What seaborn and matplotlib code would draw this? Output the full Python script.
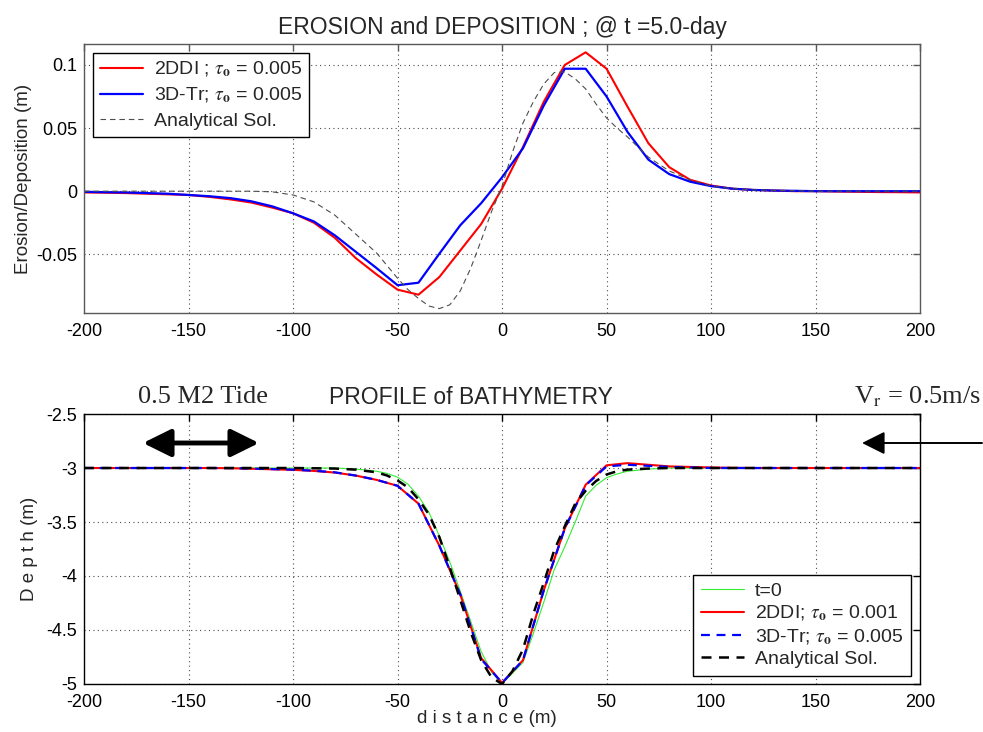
import numpy as np
import pandas as pd
import matplotlib
matplotlib.use("Agg")
import matplotlib.pyplot as plt
import seaborn as sns

# ---------------- erosion / deposition (top panel) ----------------
x_model = [-200, -190, -180, -170, -160, -150, -140, -130, -120, -110,
           -100, -90, -80, -70, -60, -50, -40, -30, -20, -10,
           0, 10, 20, 30, 40, 50, 60, 70, 80, 90,
           100, 110, 120, 130, 140, 150, 160, 170, 180, 190, 200]

erosion_2ddi = [-0.001, -0.0012, -0.0015, -0.002, -0.0025, -0.003, -0.0045, -0.0065, -0.009, -0.013,
                -0.0175, -0.025, -0.037, -0.053, -0.066, -0.078, -0.082, -0.068, -0.047, -0.026,
                0.002, 0.035, 0.071, 0.100, 0.110, 0.097, 0.067, 0.038, 0.019, 0.009,
                0.0045, 0.002, 0.001, 0.0005, 0.0, 0.0, -0.0003, -0.0005, -0.0007, -0.0008, -0.001]

erosion_3dtr = [-0.0005, -0.0008, -0.001, -0.0015, -0.002, -0.003, -0.004, -0.0055, -0.008, -0.012,
                -0.0175, -0.024, -0.035, -0.048, -0.061, -0.0745, -0.0725, -0.0495, -0.027, -0.0095,
                0.011, 0.034, 0.068, 0.097, 0.097, 0.075, 0.047, 0.025, 0.0135, 0.0075,
                0.004, 0.002, 0.001, 0.0005, 0.0003, 0.0, 0.0, 0.0, 0.0, 0.0, 0.0]

x_analytic = [-200, -150, -120, -110, -100, -90, -80, -70, -60, -50,
              -45, -40, -35, -30, -25, -20, -15, -10, -5, 0,
              5, 10, 15, 20, 25, 30, 35, 40, 45, 50,
              55, 60, 70, 80, 90, 100, 110, 120, 150, 200]
erosion_analytic = [0.0, 0.0, 0.0, -0.0005, -0.003, -0.0085, -0.019, -0.034, -0.049, -0.069,
                    -0.078, -0.085, -0.091, -0.093, -0.090, -0.079, -0.061, -0.039, -0.016, 0.004,
                    0.031, 0.054, 0.071, 0.085, 0.094, 0.0945, 0.089, 0.081, 0.069, 0.058,
                    0.050, 0.043, 0.027, 0.016, 0.009, 0.004, 0.002, 0.001, 0.0, 0.0]

# ---------------- bathymetry profile (bottom panel) ----------------
depth_2ddi = [-3.0, -3.0, -3.0, -3.0, -3.0, -3.0, -3.0, -3.002, -3.007, -3.012,
              -3.017, -3.027, -3.042, -3.07, -3.11, -3.165, -3.33, -3.72, -4.17, -4.76,
              -4.99, -4.78, -4.13, -3.56, -3.155, -2.975, -2.955, -2.97, -2.985, -2.99,
              -2.995, -2.998, -3.0, -3.0, -3.0, -3.0, -3.0, -3.0, -3.0, -3.0, -3.0]

depth_3dtr = [-3.0, -3.0, -3.0, -3.0, -3.0, -3.0, -3.0, -3.001, -3.005, -3.01,
              -3.015, -3.025, -3.04, -3.07, -3.11, -3.165, -3.33, -3.72, -4.17, -4.77,
              -4.99, -4.78, -4.13, -3.56, -3.16, -2.985, -2.97, -2.98, -2.99, -2.995,
              -3.0, -3.0, -3.0, -3.0, -3.0, -3.0, -3.0, -3.0, -3.0, -3.0, -3.0]

x_profile = [-200, -100, -80, -70, -60, -55, -50, -45, -40, -35,
             -30, -25, -20, -15, -10, -5, 0, 5, 10, 15,
             20, 25, 30, 35, 40, 45, 50, 55, 60, 70, 80, 200]
depth_initial = [-3.0, -3.0, -3.0, -3.01, -3.03, -3.05, -3.085, -3.15, -3.26, -3.41,
                 -3.63, -3.87, -4.14, -4.42, -4.70, -4.89, -5.0, -4.90, -4.80, -4.53,
                 -4.24, -3.94, -3.73, -3.50, -3.26, -3.16, -3.09, -3.055, -3.03, -3.01, -3.0, -3.0]
depth_analytic = [-3.0, -3.0, -3.005, -3.015, -3.04, -3.07, -3.115, -3.18, -3.29, -3.43,
                  -3.64, -3.92, -4.22, -4.52, -4.78, -4.94, -5.0, -4.88, -4.68, -4.35,
                  -4.06, -3.76, -3.54, -3.33, -3.21, -3.12, -3.06, -3.03, -3.015, -3.005, -3.0, -3.0]

x_ticks = [-200, -150, -100, -50, 0, 50, 100, 150, 200]
top_yticks = [-0.05, 0, 0.05, 0.1]
top_ytick_labels = ["-0.05", "0", "0.05", "0.1"]
bot_yticks = [-5, -4.5, -4, -3.5, -3, -2.5]
bot_ytick_labels = ["-5", "-4.5", "-4", "-3.5", "-3", "-2.5"]

model = pd.DataFrame({"x": x_model, "ero_2ddi": erosion_2ddi, "ero_3dtr": erosion_3dtr,
                      "dep_2ddi": depth_2ddi, "dep_3dtr": depth_3dtr})
analytic_ero = pd.DataFrame({"x": x_analytic, "val": erosion_analytic})
profile = pd.DataFrame({"x": x_profile, "init": depth_initial, "anal": depth_analytic})

sns.set_style("white")
plt.rcParams["font.family"] = ["Liberation Sans", "DejaVu Sans"]
plt.rcParams["mathtext.fontset"] = "stix"
plt.rcParams["font.size"] = 13
plt.rcParams["xtick.direction"] = "in"
plt.rcParams["ytick.direction"] = "in"
plt.rcParams["xtick.top"] = True
plt.rcParams["ytick.right"] = True
plt.rcParams["xtick.major.size"] = 5
plt.rcParams["ytick.major.size"] = 5
plt.rcParams["xtick.color"] = "black"
plt.rcParams["ytick.color"] = "black"

TICK_FS = 13
LABEL_FS = 13.5
LEGEND_FS = 14
TITLE_FS = 16.5
NOTE_FS = 19

fig = plt.figure(figsize=(9.83, 7.32), dpi=100)
ax1 = fig.add_axes([0.0855, 0.5724, 0.8505, 0.3675])
ax2 = fig.add_axes([0.0855, 0.0656, 0.8505, 0.3688])

tau = r"$\tau_{\mathbf{o}}$"

def style_axes(ax, spine_color):
    ax.grid(True, linestyle=(0, (1, 3)), color="0.3", linewidth=0.8)
    for s in ax.spines.values():
        s.set_color(spine_color)
        s.set_linewidth(1.0)
    ax.tick_params(axis="both", which="major", labelsize=TICK_FS,
                   color=spine_color, width=1.0)
    ax.tick_params(axis="x", pad=7)
    ax.tick_params(axis="y", pad=5)
    ax.set_xlim(-200, 200)
    ax.set_xticks(x_ticks)
    ax.set_xticklabels([str(v) for v in x_ticks])

# ---- top panel ----
sns.lineplot(data=model, x="x", y="ero_2ddi", ax=ax1, color="#ff0000", linewidth=1.5,
             label=f"2DDI ; {tau} = 0.005", sort=False)
sns.lineplot(data=model, x="x", y="ero_3dtr", ax=ax1, color="#0000ff", linewidth=1.6,
             label=f"3D-Tr; {tau} = 0.005", sort=False)
sns.lineplot(data=analytic_ero, x="x", y="val", ax=ax1, color="0.3", linewidth=0.8,
             linestyle=(0, (5, 3.5)), label="Analytical Sol.", sort=False)
style_axes(ax1, "0.35")
ax1.set_ylim(-0.0965, 0.1166)
ax1.set_yticks(top_yticks)
ax1.set_yticklabels(top_ytick_labels)
ax1.set_xlabel("")
ax1.set_ylabel("Erosion/Deposition (m)", fontsize=LABEL_FS, labelpad=3)
ax1.set_title("EROSION and DEPOSITION ; @ t =5.0-day", fontsize=TITLE_FS, pad=7)
leg1 = ax1.legend(loc="upper left", bbox_to_anchor=(0.011, 0.967), fontsize=LEGEND_FS,
                  frameon=True, fancybox=False, edgecolor="black", framealpha=1,
                  handlelength=2.2, handletextpad=0.55, labelspacing=0.35,
                  borderpad=0.35, borderaxespad=0.0)
leg1.get_frame().set_linewidth(1.0)

# ---- bottom panel ----
sns.lineplot(data=profile, x="x", y="init", ax=ax2, color="#33ee33", linewidth=0.8,
             label="t=0", sort=False)
sns.lineplot(data=model, x="x", y="dep_2ddi", ax=ax2, color="#ff0000", linewidth=1.5,
             label=f"2DDI; {tau} = 0.001", sort=False)
sns.lineplot(data=model, x="x", y="dep_3dtr", ax=ax2, color="#0000ff", linewidth=1.6,
             linestyle=(0, (4, 3)), label=f"3D-Tr; {tau} = 0.005", sort=False)
sns.lineplot(data=profile, x="x", y="anal", ax=ax2, color="black", linewidth=1.8,
             linestyle=(0, (4, 3)), label="Analytical Sol.", sort=False)
style_axes(ax2, "black")
ax2.set_ylim(-5, -2.5)
ax2.set_yticks(bot_yticks)
ax2.set_yticklabels(bot_ytick_labels)
ax2.set_xlabel("d i s t a n c e (m)", fontsize=LABEL_FS, labelpad=2)
ax2.xaxis.set_label_coords(0.482, -0.095)
ax2.set_ylabel("D e p t h (m)", fontsize=LABEL_FS, labelpad=6)
ax2.set_title("PROFILE of BATHYMETRY", fontsize=TITLE_FS, pad=7)
ax2.title.set_x(0.463)
leg2 = ax2.legend(loc="lower right", bbox_to_anchor=(0.989, 0.03), fontsize=LEGEND_FS,
                  frameon=True, fancybox=False, edgecolor="black", framealpha=1,
                  handlelength=2.2, handletextpad=0.55, labelspacing=0.2,
                  borderpad=0.4, borderaxespad=0.0)
leg2.get_frame().set_linewidth(1.0)

# ---- annotations: tide and current ----
fig.text(203 / 983, 1 - 397 / 732, "0.5 M2 Tide", ha="center", va="center",
         fontsize=NOTE_FS, family="Liberation Serif")
fig.text(981 / 983, 1 - 397 / 732, r"V$_{\mathrm{r}}$ = 0.5m/s", ha="right", va="center",
         fontsize=NOTE_FS, family="Liberation Serif")

fig.patches.append(matplotlib.patches.FancyArrowPatch(
    (143 / 983, 1 - 443 / 732), (259 / 983, 1 - 443 / 732),
    transform=fig.transFigure, arrowstyle="<|-|>,head_length=0.85,head_width=0.42",
    mutation_scale=20, linewidth=3.5, color="black", shrinkA=0, shrinkB=0))
fig.patches.append(matplotlib.patches.FancyArrowPatch(
    (982 / 983, 1 - 443 / 732), (862 / 983, 1 - 443 / 732),
    transform=fig.transFigure, arrowstyle="-|>,head_length=0.7,head_width=0.35",
    mutation_scale=20, linewidth=1.4, color="black", shrinkA=0, shrinkB=0))

fig.savefig("out.png", dpi=100, facecolor="white")
